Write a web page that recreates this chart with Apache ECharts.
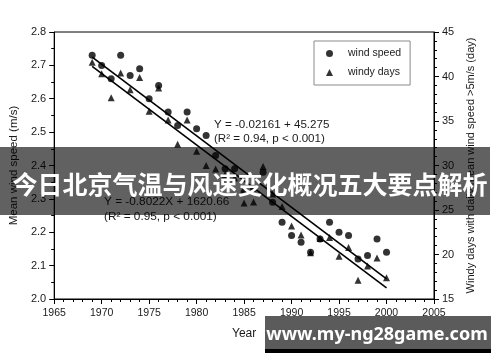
<!DOCTYPE html>
<html>
<head>
<meta charset="utf-8">
<script src="https://cdn.jsdelivr.net/npm/echarts@6/dist/echarts.min.js"></script>
<style>
html,body{margin:0;padding:0;background:#fff;}
#chart{width:500px;height:362px;}
</style>
</head>
<body>
<div id="chart"></div>
<script>
// ---- data ----
var years = [1969,1970,1971,1972,1973,1974,1975,1976,1977,1978,1979,1980,1981,1982,1983,1984,
             1985,1986,1987,1988,1989,1990,1991,1992,1993,1994,1995,1996,1997,1998,1999,2000];
var windSpeed = [2.73,2.70,2.66,2.73,2.67,2.69,2.60,2.64,2.56,2.52,2.56,2.51,2.49,2.43,2.39,2.39,
                 2.32,2.33,2.38,2.29,2.23,2.19,2.17,2.14,2.18,2.23,2.20,2.19,2.12,2.13,2.18,2.14];
var windyDays = [41.6,40.3,37.6,40.4,38.5,39.9,36.1,38.7,35.1,32.4,35.1,31.6,30.0,29.6,29.0,28.6,
                 25.8,25.9,29.9,26.8,25.4,23.2,22.2,20.2,21.8,21.9,19.8,20.8,17.1,18.7,19.6,17.4];
var windFitYears = [1969, 2000];
var windFitValues = [2.725, 2.06];
var daysFitYears = [1969, 2000];
var daysFitValues = [41.13, 16.26];
var xTicks = [1965, 1970, 1975, 1980, 1985, 1990, 1995, 2000, 2005];
var leftTicks = [2.0, 2.1, 2.2, 2.3, 2.4, 2.5, 2.6, 2.7, 2.8];
var rightTicks = [15, 20, 25, 30, 35, 40, 45];
var seriesNames = ['wind speed', 'windy days'];
var eq1 = ['Y = -0.02161 + 45.275', '(R\u00b2 = 0.94, p < 0.001)'];
var eq2 = ['Y = -0.8022X + 1620.66', '(R\u00b2 = 0.95, p < 0.001)'];
var bannerText = '今日北京气温与风速变化概况五大要点解析';
var watermarkText = 'www.my-ng28game.com';

function zip(a, b) { return a.map(function (v, i) { return [v, b[i]]; }); }

var font = 'Liberation Sans, Arial, sans-serif';
var chart = echarts.init(document.getElementById('chart'), null, {renderer: 'canvas'});
var option = {
  animation: false,
  backgroundColor: '#fff',
  grid: {left: 51, right: 66, top: 32, bottom: 63, show: true, borderColor: '#000', borderWidth: 1, backgroundColor: 'transparent'},
  xAxis: {
    type: 'value', min: xTicks[0], max: xTicks[xTicks.length - 1], interval: 5,
    name: 'Year', nameLocation: 'middle', nameGap: 29,
    nameTextStyle: {fontFamily: font, fontSize: 12, color: '#1a1a1a'},
    axisLine: {lineStyle: {color: '#000', width: 1}},
    axisTick: {show: true, length: 5, lineStyle: {color: '#000'}},
    minorTick: {show: true, splitNumber: 5, length: 3, lineStyle: {color: '#000'}},
    splitLine: {show: false},
    axisLabel: {fontFamily: font, fontSize: 10.5, color: '#1a1a1a', margin: 9, formatter: function (v) { return String(v); }}
  },
  yAxis: [{
    type: 'value', min: leftTicks[0], max: leftTicks[leftTicks.length - 1], interval: 0.1,
    name: 'Mean wind speed (m/s)', nameLocation: 'middle', nameGap: 31,
    nameTextStyle: {fontFamily: font, fontSize: 11.5, color: '#1a1a1a'},
    axisLine: {show: true, lineStyle: {color: '#000', width: 1}},
    axisTick: {show: true, length: 5, lineStyle: {color: '#000'}},
    minorTick: {show: true, splitNumber: 2, length: 3, lineStyle: {color: '#000'}},
    splitLine: {show: false},
    axisLabel: {fontFamily: font, fontSize: 11, color: '#1a1a1a', margin: 8, formatter: function (v) { return v.toFixed(1); }}
  }, {
    type: 'value', position: 'right', min: rightTicks[0], max: rightTicks[rightTicks.length - 1], interval: 5,
    name: 'Windy days with daily mean wind speed >5m/s (day)', nameLocation: 'middle', nameGap: 26, nameRotate: 90,
    nameTextStyle: {fontFamily: font, fontSize: 11, color: '#1a1a1a'},
    axisLine: {show: true, lineStyle: {color: '#000', width: 1}},
    axisTick: {show: true, length: 5, lineStyle: {color: '#000'}},
    minorTick: {show: true, splitNumber: 5, length: 3, lineStyle: {color: '#000'}},
    splitLine: {show: false},
    axisLabel: {fontFamily: font, fontSize: 11, color: '#1a1a1a', margin: 8}
  }],
  legend: {
    left: 314, top: 41, orient: 'vertical',
    data: [{name: seriesNames[0], icon: 'circle'}, {name: seriesNames[1], icon: 'triangle'}],
    itemWidth: 7, itemHeight: 7, itemGap: 8,
    padding: [7, 9, 7, 12],
    borderColor: '#8a8a8a', borderWidth: 1,
    textStyle: {fontFamily: font, fontSize: 10.5, color: '#1a1a1a', padding: [0, 0, 0, 10]}
  },
  series: [{
    name: seriesNames[0], type: 'scatter', yAxisIndex: 0, symbol: 'circle', symbolSize: 7,
    itemStyle: {color: '#000'}, data: zip(years, windSpeed), z: 3
  }, {
    name: seriesNames[1], type: 'scatter', yAxisIndex: 1, symbol: 'triangle', symbolSize: 7,
    itemStyle: {color: '#000'}, data: zip(years, windyDays), z: 3
  }, {
    name: 'fit1', type: 'line', yAxisIndex: 0, symbol: 'none', silent: true,
    lineStyle: {color: '#000', width: 1.6}, data: zip(windFitYears, windFitValues), z: 2
  }, {
    name: 'fit2', type: 'line', yAxisIndex: 1, symbol: 'none', silent: true,
    lineStyle: {color: '#000', width: 1.6}, data: zip(daysFitYears, daysFitValues), z: 2
  }],
  graphic: [
    {type: 'text', left: 214, top: 119, z: 10, style: {text: eq1[0], font: '11.6px ' + font, fill: '#1a1a1a'}},
    {type: 'text', left: 214, top: 133, z: 10, style: {text: eq1[1], font: '11.6px ' + font, fill: '#1a1a1a'}},
    {type: 'text', left: 104, top: 196, z: 10, style: {text: eq2[0], font: '11.8px ' + font, fill: '#1a1a1a'}},
    {type: 'text', left: 104, top: 211, z: 10, style: {text: eq2[1], font: '11.8px ' + font, fill: '#1a1a1a'}},
    {type: 'rect', z: 100, shape: {x: 0, y: 147, width: 490, height: 68}, style: {fill: 'rgba(0,0,0,0.62)'}},
    {type: 'text', z: 101, x: 250, y: 184, style: {text: bannerText, font: 'bold 25px "Noto Sans CJK SC"', fill: '#fff', textAlign: 'center', textVerticalAlign: 'middle'}},
    {type: 'rect', z: 100, shape: {x: 265, y: 316, width: 226, height: 33}, style: {fill: '#5b5b5b'}},
    {type: 'rect', z: 100, shape: {x: 265, y: 349, width: 226, height: 4}, style: {fill: '#000'}},
    {type: 'text', z: 101, x: 377, y: 335, style: {text: watermarkText, font: 'bold 18px "Noto Sans", "DejaVu Sans", sans-serif', fill: '#fff', textAlign: 'center', textVerticalAlign: 'middle'}}
  ]
};
chart.setOption(option);
</script>
</body>
</html>
